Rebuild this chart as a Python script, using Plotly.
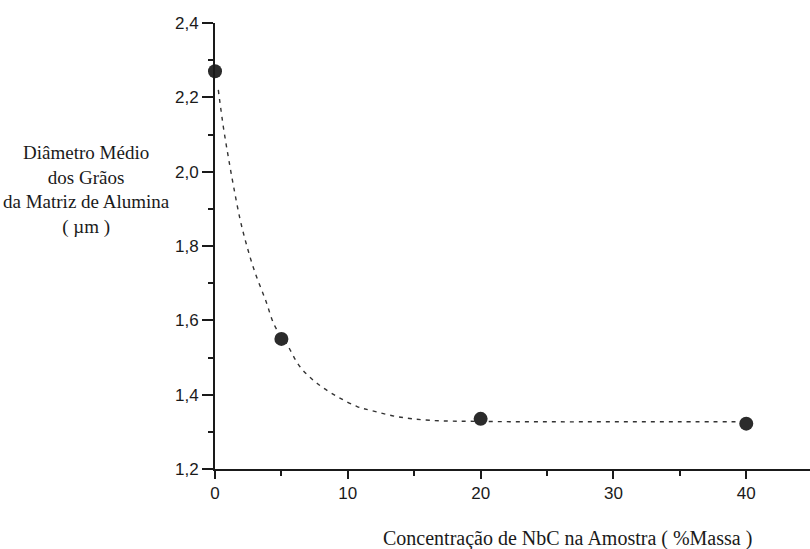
import plotly.graph_objects as go

# Measured data points
conc = [0, 5, 20, 40]
diam = [2.27, 1.55, 1.335, 1.322]

# Dashed trend curve
curve_x = [0.25, 0.63, 1.0, 1.4, 1.9, 2.4, 3.0, 3.8, 4.5, 5.5, 6.4, 7.7, 9.2,
           10.7, 11.7, 13.7, 16.2, 20, 25, 30, 35, 40]
curve_y = [2.22, 2.12, 2.04, 1.96, 1.87, 1.80, 1.73, 1.655, 1.585, 1.53, 1.475,
           1.43, 1.395, 1.368, 1.358, 1.341, 1.331, 1.328, 1.327, 1.327, 1.327, 1.327]

x_ticks = [0, 10, 20, 30, 40]
y_ticks = [1.2, 1.4, 1.6, 1.8, 2.0, 2.2, 2.4]

y_title = "Diâmetro Médio<br>dos Grãos<br>da Matriz de Alumina<br>( µm )"
x_title = "Concentração de NbC na Amostra ( %Massa )"

fig = go.Figure()
fig.add_trace(go.Scatter(
    x=curve_x, y=curve_y, mode="lines", line_shape="spline",
    line=dict(color="#333333", width=1.4, dash="4px,5px"),
    hoverinfo="skip", showlegend=False, cliponaxis=False))
fig.add_trace(go.Scatter(
    x=conc, y=diam, mode="markers",
    marker=dict(size=14, color="#2b2b2b"),
    showlegend=False, cliponaxis=False))

axis_font = dict(family="Liberation Sans, Arial, sans-serif", size=17, color="#1a1a1a")

fig.update_layout(
    width=810, height=549,
    margin=dict(l=215, r=0, t=23, b=80),
    paper_bgcolor="white", plot_bgcolor="white",
    separators=",.",
    xaxis=dict(range=[0, 44.8], tickvals=x_ticks, ticks="outside", ticklen=8,
               tickwidth=1.5, tickcolor="#1a1a1a", showline=True, linecolor="#1a1a1a",
               linewidth=2, showgrid=False, zeroline=False,
               tickfont=dict(family=axis_font["family"], size=17, color="#1a1a1a"),
               minor=dict(dtick=5, tick0=0, ticks="outside", ticklen=5,
                          tickcolor="#1a1a1a", tickwidth=1.5, showgrid=False)),
    yaxis=dict(range=[1.2, 2.4], tickvals=y_ticks, tickformat=".1f", ticks="outside",
               ticklen=11, tickwidth=1.5, tickcolor="#1a1a1a", showline=True,
               linecolor="#1a1a1a", linewidth=2, showgrid=False, zeroline=False,
               tickfont=axis_font,
               minor=dict(dtick=0.1, tick0=1.2, ticks="outside", ticklen=5,
                          tickcolor="#1a1a1a", tickwidth=1.5, showgrid=False)),
    annotations=[
        dict(text=y_title, xref="paper", yref="paper", x=(86 - 215) / 595,
             y=1 - (190 - 23) / 446, xanchor="center", yanchor="middle",
             showarrow=False, align="center",
             font=dict(family="Liberation Serif, Times New Roman, serif", size=19,
                       color="#1a1a1a")),
        dict(text=x_title, xref="paper", yref="paper", x=(567 - 215) / 595,
             y=-(538 - 469) / 446, xanchor="center", yanchor="middle",
             showarrow=False,
             font=dict(family="Liberation Serif, Times New Roman, serif", size=20,
                       color="#1a1a1a")),
    ],
)

fig.write_html(
    "out.html",
    config={"displayModeBar": False},
    post_script="document.body.style.margin='0';document.body.style.overflow='hidden';",
)
